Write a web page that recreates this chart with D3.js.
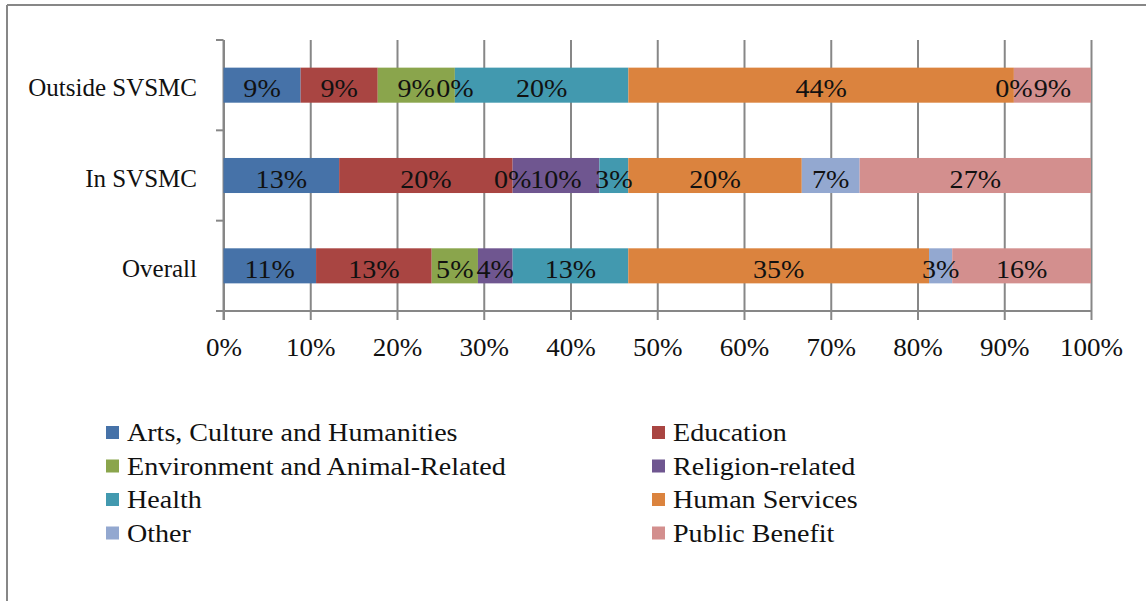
<!DOCTYPE html>
<html>
<head>
<meta charset="utf-8">
<script src="https://cdn.jsdelivr.net/npm/d3@7"></script>
<style>
  html, body { margin: 0; padding: 0; background: #fff; }
  svg { display: block; }
  text { font-family: "Liberation Serif", "Times New Roman", serif; fill: #111; }
</style>
</head>
<body>
<svg id="chart" width="1146" height="601"></svg>
<script>
// ---- data ----
const categories = ["Outside SVSMC", "In SVSMC", "Overall"];
const seriesNames = ["Arts, Culture and Humanities", "Education", "Environment and Animal-Related",
  "Religion-related", "Health", "Human Services", "Other", "Public Benefit"];
const seriesColors = ["#4672A8", "#A94542", "#8AA54C", "#6F5690", "#4299AF", "#DB833E", "#93A8D0", "#D38F8E"];
// percentage shares per category, in series order
const outsideValues = [8.89, 8.89, 8.89, 0, 20.0, 44.44, 0, 8.89];
const inValues      = [13.33, 20.0, 0, 10.0, 3.33, 20.0, 6.67, 26.67];
const overallValues = [10.67, 13.33, 5.33, 4.0, 13.33, 34.67, 2.67, 16.0];
const xTicks = [0, 10, 20, 30, 40, 50, 60, 70, 80, 90, 100];

const valuesByCategory = [outsideValues, inValues, overallValues];

// ---- layout ----
const svg = d3.select("#chart");
const gridColor = "#878787";

// outer frame (top and left)
svg.append("line").attr("x1", 7).attr("x2", 1146).attr("y1", 5).attr("y2", 5)
  .attr("stroke", gridColor).attr("stroke-width", 2);
svg.append("line").attr("x1", 7).attr("x2", 7).attr("y1", 5).attr("y2", 601)
  .attr("stroke", gridColor).attr("stroke-width", 2);

const x = d3.scaleLinear().domain([0, 100]).range([223.5, 1091]);
const y = d3.scaleBand().domain(categories).range([40, 311]).paddingInner(0.612).paddingOuter(0.306);

// vertical gridlines + x ticks
const xAxis = d3.axisBottom(x).tickValues(xTicks).tickFormat(d => d + "%")
  .tickSize(0).tickPadding(0);
const gx = svg.append("g").attr("transform", "translate(0,311)").call(xAxis);
gx.select(".domain").remove();
gx.selectAll(".tick text").remove();
gx.selectAll(".tick").append("line")
  .attr("y1", -271).attr("y2", 9)
  .attr("stroke", gridColor).attr("stroke-width", 2);
gx.selectAll(".tick").append("text")
  .attr("transform", "translate(0,45) scale(1.04,1)").attr("text-anchor", "middle")
  .style("font-size", "26px").attr("fill", "#111")
  .text(d => d + "%");

// baseline axis (x axis line)
svg.append("line").attr("x1", 216).attr("x2", x(100)).attr("y1", 311).attr("y2", 311)
  .attr("stroke", gridColor).attr("stroke-width", 2);
// y axis line with ticks at band boundaries
svg.append("line").attr("x1", x(0)).attr("x2", x(0)).attr("y1", 40).attr("y2", 320)
  .attr("stroke", gridColor).attr("stroke-width", 2);
const boundaries = [40, 40 + y.step(), 40 + 2 * y.step()];
svg.selectAll(".ytick").data(boundaries).enter().append("line")
  .attr("x1", 216).attr("x2", x(0)).attr("y1", d => d).attr("y2", d => d)
  .attr("stroke", gridColor).attr("stroke-width", 2);

// category labels
svg.selectAll(".cat").data(categories).enter().append("text")
  .attr("x", 197).attr("y", d => y(d) + y.bandwidth() / 2 + 11)
  .attr("text-anchor", "end").style("font-size", "25px")
  .text(d => d);

// stacked bars
categories.forEach((cat, ci) => {
  const vals = valuesByCategory[ci];
  let acc = 0;
  const segs = vals.map((v, si) => { const s = { cat, si, v, x0: acc, x1: acc + v }; acc += v; return s; });
  const g = svg.append("g");
  g.selectAll("rect").data(segs).enter().append("rect")
    .attr("x", d => x(d.x0)).attr("width", d => x(d.x1) - x(d.x0))
    .attr("y", y(cat)).attr("height", y.bandwidth())
    .attr("fill", d => seriesColors[d.si]);
  g.selectAll("text").data(segs).enter().append("text")
    .attr("transform", d => `translate(${x((d.x0 + d.x1) / 2)},${y(cat) + y.bandwidth() / 2 + 12}) scale(1.08,1)`)
    .attr("text-anchor", "middle").style("font-size", "26px")
    .text(d => Math.round(d.v) + "%");
});

// legend
const legendCols = [106, 652];
const legendRow0 = 441, legendStep = 33.5;
const lg = svg.selectAll(".leg").data(seriesNames).enter().append("g")
  .attr("transform", (d, i) => `translate(${legendCols[i % 2]},${legendRow0 + Math.floor(i / 2) * legendStep})`);
lg.append("rect").attr("x", 0).attr("y", -15).attr("width", 13).attr("height", 13)
  .attr("fill", (d, i) => seriesColors[i]);
lg.append("text").attr("transform", "translate(21,0) scale(1.08,1)").style("font-size", "26px").text(d => d);
</script>
</body>
</html>
